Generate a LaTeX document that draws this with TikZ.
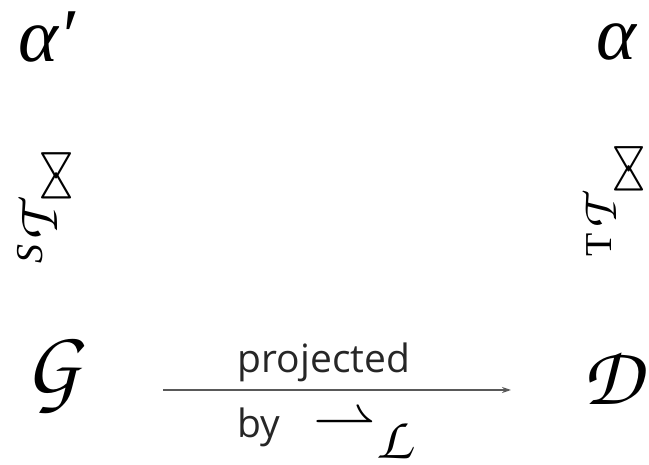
\documentclass[tikz,border=0pt]{standalone}
\usepackage{fix-cm}
\usepackage[T1]{fontenc}
\usepackage{fontspec}
\setmainfont{Liberation Serif}
\newfontfamily\labelsans{Open Sans}
\usetikzlibrary{arrows.meta}
\newcommand{\chanc}[1]{\fontencoding{T1}\fontfamily{pzc}\fontseries{mb}\fontshape{it}\fontsize{#1}{#1}\selectfont}
\tikzset{
  sym/.style={inner sep=0pt, outer sep=0pt, text=black},
  lbl/.style={inner sep=0pt, text=black!85, font=\labelsans\fontsize{39}{39}\selectfont},
  arr/.style={draw=black!65, line width=1.3pt, -{Stealth[length=9pt,width=6pt]}}
}
\begin{document}
\begin{tikzpicture}[x=1pt,y=-1pt]
\useasboundingbox (0,0) rectangle (649,465);
% top row
\node[sym] (ap) at (47,37) {\fontsize{76}{76}\selectfont\itshape α′};
\node[sym] (a) at (616,42) {\fontsize{76}{76}\selectfont\itshape α};
% left vertical relation
\node[sym, rotate=90] (lbow) at (58,176) {\fontsize{60}{60}\selectfont$\bowtie$};
\node[sym, rotate=90] (lT) at (38,226) {\chanc{60}T};
\node[sym, rotate=90] (lS) at (30,254) {\fontsize{38}{38}\selectfont\itshape S};
% right vertical relation
\node[sym, rotate=90] (rbow) at (630,169) {\fontsize{58}{58}\selectfont$\bowtie$};
\node[sym, rotate=90] (rT) at (599,216) {\chanc{52}T};
\node[sym, rotate=90] (rt) at (599,245) {\fontsize{38}{38}\selectfont T};
% bottom row
\node[sym] (G) at (52,376) {\chanc{90}G};
\node[sym] (D) at (612,377) {\chanc{84}D};
\coordinate (a1) at (163,390);
\coordinate (a2) at (511,390);
\draw[arr] (a1) -- (a2);
\node[lbl, anchor=base] (proj) at (324,373) {projected};
\node[lbl, anchor=base west] (by) at (237,438) {by};
\node[sym, anchor=center] (harp) at (345,426) {\fontsize{64}{64}\selectfont$\rightharpoonup$};
\node[sym] (L) at (394,441) {\chanc{60}L};
\end{tikzpicture}
\end{document}
